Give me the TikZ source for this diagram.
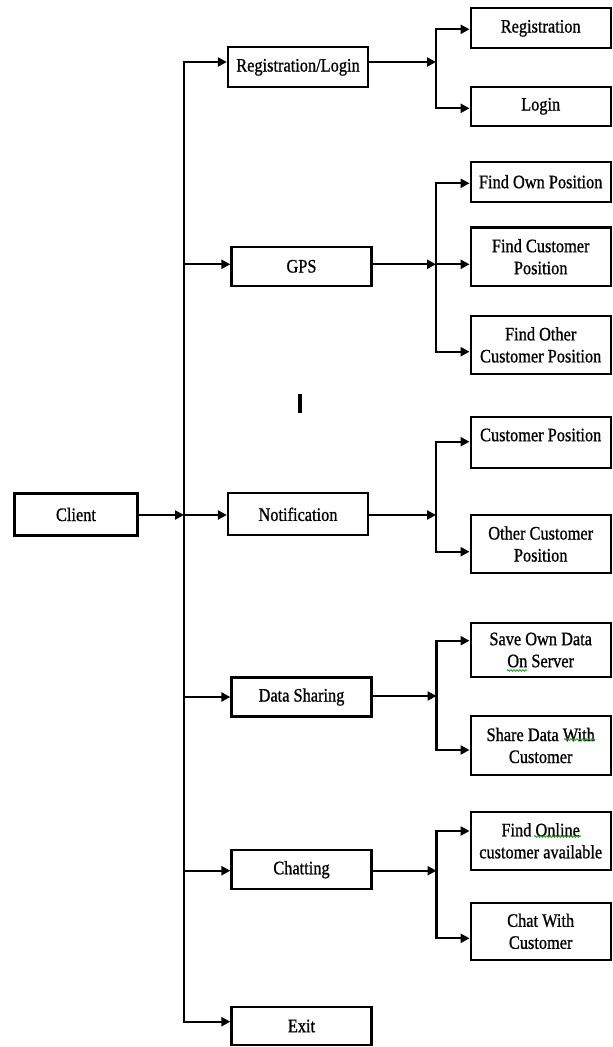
\documentclass[tikz,border=0pt]{standalone}
\usepackage{fontspec}
\setmainfont[FakeStretch=0.86,FakeBold=0.9]{Liberation Serif}
\usetikzlibrary{arrows.meta,decorations.pathmorphing}
\definecolor{spellgreen}{RGB}{40,150,40}
\begin{document}
\begin{tikzpicture}[x=1pt,y=-1pt,
  box/.style={draw, line width=2.3pt, minimum width=140pt, inner sep=0pt, align=center,
    font=\fontsize{19}{22}\selectfont},
  txt/.style={inner sep=0pt, align=center, font=\fontsize{19}{22}\selectfont},
  conn/.style={line width=2.3pt, line join=miter},
  arr/.style={conn, -{Triangle[length=9pt,width=9pt]}},
  squig/.style={spellgreen, line width=0.8pt, decorate,
    decoration={snake, segment length=3pt, amplitude=0.9pt}}]
\useasboundingbox (0,0) rectangle (613,1047);

% main column
\node[box, minimum width=123pt, minimum height=42pt] (client) at (76,514.5) {Client};
\node[box, minimum height=40pt] (reglogin) at (298,67.3) {Registration/Login};
\node[box, minimum height=39pt] (gps) at (301.5,266.3) {GPS};
\node[box, minimum height=42pt] (notif) at (298,514.3) {Notification};
\node[box, minimum height=39pt] (datash) at (301.5,697) {Data Sharing};
\node[box, minimum height=39pt] (chat) at (301.5,869.7) {Chatting};
\node[box, minimum height=38pt] (exit) at (301.5,1026) {Exit};

% right column
\node[box, minimum height=40pt] (reg) at (540.7,28.3) {Registration};
\node[box, minimum height=39pt] (login) at (540.7,106.3) {Login};
\node[box, minimum height=40pt] (findown) at (540.7,181.7) {Find Own Position};
\node[box, minimum height=58.7pt] (findcust) at (540.7,256.7) {Find Customer\\Position};
\node[box, minimum height=58pt] (findother) at (540.7,344.9) {Find Other\\Customer Position};
\node[box, minimum height=51.6pt] (custpos) at (540.7,442.5) {};
\node[txt] (custposT) at (540.7,435) {Customer Position};
\node[box, minimum height=58pt] (othercust) at (540.7,544) {Other Customer\\Position};
\node[box, minimum height=54.6pt] (saveown) at (540.7,650) {Save Own Data\\On Server};
\node[box, minimum height=59pt] (sharedata) at (540.7,745.5) {Share Data With\\Customer};
\node[box, minimum height=58pt] (findonline) at (540.7,840.8) {Find Online\\customer available};
\node[box, minimum height=57pt] (chatwith) at (540.7,931.3) {Chat With\\Customer};

% spell-check squiggles
\draw[squig] (507,670.5) -- (527,670.5);
\draw[squig] (564,739.5) -- (595,739.5);
\draw[squig] (534,836.5) -- (581,836.5);

% stray cursor mark
\node[fill, inner sep=0pt, minimum width=3.5pt, minimum height=19pt] (cursor) at (300,403) {};

% trunk
\coordinate (T1) at (184,62);
\coordinate (T2) at (184,264.3);
\coordinate (T3) at (184,515);
\coordinate (T4) at (184,697);
\coordinate (T5) at (184,870.7);
\coordinate (T6) at (184,1021.7);

\draw[arr] (T3) |- (T1 -| reglogin.west);
\draw[arr] (T3) |- (T6 -| exit.west);
\draw[arr] (T2) -- (T2 -| gps.west);
\draw[arr] (T3) -- (T3 -| notif.west);
\draw[arr] (T4) -- (T4 -| datash.west);
\draw[arr] (T5) -- (T5 -| chat.west);
\draw[arr] (client.east |- T3) -- (T3);

% group 1
\coordinate (J1) at (436,62);
\draw[arr] (reglogin.east |- J1) -- (J1);
\draw[arr] (J1) |- (reg.west |- 0,29.3);
\draw[arr] (J1) |- (login.west |- 0,108.3);

% group 2
\coordinate (J2) at (436,264.3);
\draw[arr] (gps.east |- J2) -- (J2);
\draw[arr] (J2) |- (findown.west |- 0,183.3);
\draw[arr] (J2) -- (J2 -| findcust.west);
\draw[arr] (J2) |- (findother.west |- 0,351.7);

% group 3
\coordinate (J3) at (436,515);
\draw[arr] (notif.east |- J3) -- (J3);
\draw[arr] (J3) |- (custpos.west |- 0,441.7);
\draw[arr] (J3) |- (othercust.west |- 0,551.7);

% group 4
\coordinate (J4) at (436.5,696);
\draw[arr] (datash.east |- J4) -- (J4);
\draw[arr] (J4) |- (saveown.west |- 0,640.7);
\draw[arr] (J4) |- (sharedata.west |- 0,750);

% group 5
\coordinate (J5) at (436.5,870.7);
\draw[arr] (chat.east |- J5) -- (J5);
\draw[arr] (J5) |- (findonline.west |- 0,831);
\draw[arr] (J5) |- (chatwith.west |- 0,938.3);
\end{tikzpicture}
\end{document}
